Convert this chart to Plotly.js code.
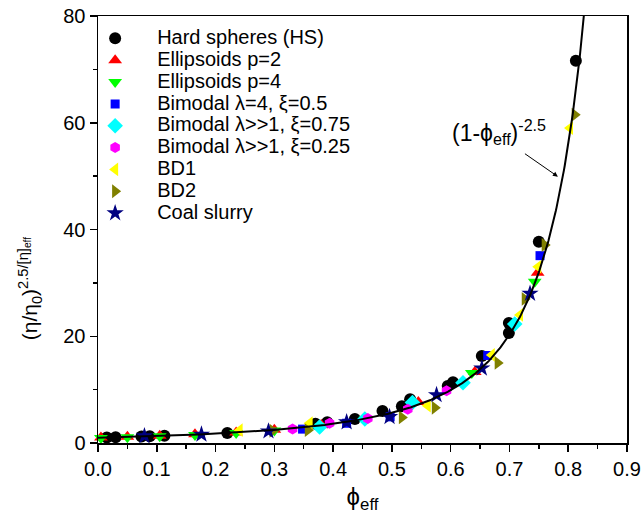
<!DOCTYPE html>
<html>
<head>
<meta charset="utf-8">
<script src="https://cdn.plot.ly/plotly-3.0.1.min.js"></script>
<style>html,body{margin:0;padding:0;background:#fff;}#chart{width:641px;height:514px;}</style>
</head>
<body>
<div id="chart"></div>
<script>
// ---- data ----
const hsPhi   = [0.015, 0.03, 0.074, 0.088, 0.113, 0.22, 0.37, 0.39, 0.437, 0.484, 0.517, 0.531, 0.595, 0.604, 0.653, 0.699, 0.699, 0.75, 0.813];
const hsVal   = [1.04, 1.08, 1.21, 1.26, 1.35, 1.86, 3.6, 3.9, 4.5, 6.0, 6.9, 8.2, 10.7, 11.4, 16.3, 20.6, 22.5, 37.7, 71.6];

const el2Phi  = [0.005, 0.05, 0.105, 0.165, 0.235, 0.30, 0.38, 0.545, 0.641, 0.748];
const el2Val  = [1.03, 1.16, 1.34, 1.62, 1.98, 2.5, 3.35, 7.7, 13.3, 31.9];

const el4Phi  = [0.005, 0.05, 0.105, 0.165, 0.235, 0.30, 0.38, 0.455, 0.535, 0.636, 0.743];
const el4Val  = [0.95, 1.08, 1.26, 1.5, 1.88, 2.35, 3.15, 4.4, 7.3, 13.1, 30.2];

const bm1Phi  = [0.348, 0.423, 0.497, 0.663, 0.752];
const bm1Val  = [2.6, 3.7, 4.9, 16.4, 35.1];

const bm2Phi  = [0.377, 0.454, 0.535, 0.621, 0.709];
const bm2Val  = [3.0, 4.5, 7.6, 11.3, 22.3];

const bm3Phi  = [0.331, 0.394, 0.459, 0.527, 0.593];
const bm3Val  = [2.6, 3.7, 4.6, 6.3, 9.8];

const bd1Phi  = [0.241, 0.36, 0.561, 0.67, 0.718, 0.749, 0.803];
const bd1Val  = [2.4, 3.7, 7.0, 16.5, 24.0, 33.0, 59.0];

const bd2Phi  = [0.297, 0.357, 0.517, 0.573, 0.68, 0.726, 0.76, 0.811];
const bd2Val  = [2.3, 2.4, 4.8, 6.6, 15.0, 27.0, 37.1, 61.5];

const coalPhi = [0.079, 0.176, 0.29, 0.423, 0.496, 0.576, 0.653, 0.735];
const coalVal = [1.3, 1.6, 2.2, 3.9, 4.9, 9.0, 14.0, 28.0];

const seriesNames = [
  'Hard spheres (HS)', 'Ellipsoids p=2', 'Ellipsoids p=4',
  'Bimodal λ=4, ξ=0.5', 'Bimodal λ>>1, ξ=0.75', 'Bimodal λ>>1, ξ=0.25',
  'BD1', 'BD2', 'Coal slurry'
];

const xTickVals = [0, 0.1, 0.2, 0.3, 0.4, 0.5, 0.6, 0.7, 0.8, 0.9];
const yTickVals = [0, 20, 40, 60, 80];

// model curve (1-phi)^-2.5, as labelled in the chart
const curvePhi = [];
for (let i = 0; i <= 600; i++) { curvePhi.push(i * 0.83 / 600); }
const curveVal = curvePhi.map(p => Math.pow(1 - p, -2.5));

// ---- styles ----
const FONT = '"Liberation Sans", Arial, Helvetica, sans-serif';
const styles = [
  {color: '#000000', symbol: 'circle', size: 12},
  {color: '#ff0000', symbol: 'triangle-up', size: 12},
  {color: '#00ff00', symbol: 'triangle-down', size: 12},
  {color: '#0000ff', symbol: 'square', size: 9},
  {color: '#00ffff', symbol: 'diamond', size: 12},
  {color: '#ff00ff', symbol: 'hexagon', size: 11},
  {color: '#ffff00', symbol: 'triangle-left', size: 12},
  {color: '#808000', symbol: 'triangle-right', size: 12},
  {color: '#000080', symbol: 'star', size: 13}
];
const xs = [hsPhi, el2Phi, el4Phi, bm1Phi, bm2Phi, bm3Phi, bd1Phi, bd2Phi, coalPhi];
const ys = [hsVal, el2Val, el4Val, bm1Val, bm2Val, bm3Val, bd1Val, bd2Val, coalVal];

const traces = xs.map((x, i) => ({
  type: 'scatter', mode: 'markers', x: x, y: ys[i],
  name: '<span style="font-size:20px">' + seriesNames[i] + '</span>',
  marker: {color: styles[i].color, symbol: styles[i].symbol, size: styles[i].size, line: {width: 0}},
  cliponaxis: false
}));
traces.push({
  type: 'scatter', mode: 'lines', x: curvePhi, y: curveVal, showlegend: false,
  line: {color: '#000000', width: 2}
});

const axisCommon = {
  showgrid: false, zeroline: false, showline: true, linecolor: '#000', linewidth: 1.5,
  mirror: true, ticks: 'outside', ticklen: 7, tickwidth: 1.5, tickcolor: '#000',
  tickfont: {family: FONT, size: 20, color: '#000'},
  minor: {ticks: 'outside', ticklen: 4, tickwidth: 1.5, tickcolor: '#000'}
};

const layout = {
  width: 641, height: 514,
  margin: {l: 98, r: 14, t: 16, b: 71},
  paper_bgcolor: '#fff', plot_bgcolor: '#fff',
  font: {family: FONT, color: '#000'},
  showlegend: true,
  legend: {
    x: -0.047, y: 0.985, xanchor: 'left', yanchor: 'top',
    bgcolor: 'rgba(0,0,0,0)', borderwidth: 0,
    font: {family: FONT, size: 14.5, color: '#000'},
    itemwidth: 74, tracegroupgap: 0
  },
  xaxis: Object.assign({}, axisCommon, {
    range: [0, 0.9], tickvals: xTickVals, tickformat: '.1f',
    minor: Object.assign({}, axisCommon.minor, {dtick: 0.05}),
    title: {text: 'ϕ<sub>eff</sub>', font: {family: FONT, size: 24}, standoff: 12}
  }),
  yaxis: Object.assign({}, axisCommon, {
    range: [0, 80], tickvals: yTickVals,
    minor: Object.assign({}, axisCommon.minor, {dtick: 10})
  }),
  annotations: [
    {x: 0.7825, y: 49.9, xref: 'x', yref: 'y', ax: -36, ay: -25, text: ' ',
     showarrow: true, arrowhead: 2, arrowsize: 1, arrowwidth: 1, arrowcolor: '#000'},
    {x: 0.683, y: 58.2, xref: 'x', yref: 'y', showarrow: false,
     text: '(1-ϕ<sub>eff</sub>)<sup>-2.5</sup>', font: {family: FONT, size: 23, color: '#000'}},
    {x: -0.128, y: 0.363, xref: 'paper', yref: 'paper', showarrow: false, textangle: -90,
     xanchor: 'center', yanchor: 'middle',
     text: '(η/η<sub>0</sub>)<sup>2.5/[η]<sub>eff</sub></sup>', font: {family: FONT, size: 21, color: '#000'}}
  ]
};

Plotly.newPlot('chart', traces, layout, {displayModeBar: false, staticPlot: true});
</script>
</body>
</html>
